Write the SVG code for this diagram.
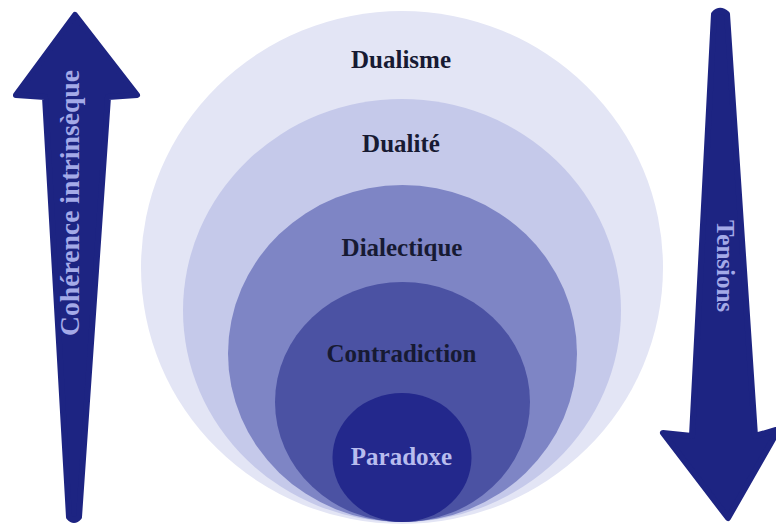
<svg xmlns="http://www.w3.org/2000/svg" width="776" height="524" viewBox="0 0 776 524">
<style>
.lbl{font-family:"Liberation Serif","Times New Roman",serif;font-weight:bold;font-size:25px;text-anchor:middle}
.dark{fill:#171a33}
.light{fill:#b8bcee}
.arrowtxt{font-family:"Liberation Serif","Times New Roman",serif;font-weight:bold;text-anchor:middle;fill:#a4aae8}
.arrow{fill:#1d2482;stroke:#1d2482;stroke-width:6;stroke-linejoin:round}
</style>
<rect width="776" height="524" fill="#ffffff"/>
<g id="dualisme">
<ellipse cx="402" cy="267.5" rx="261" ry="256.5" fill="#e3e5f5"/>
<text class="lbl dark" x="401" y="68">Dualisme</text>
</g>
<g id="dualite">
<ellipse cx="402" cy="310.5" rx="219" ry="211.5" fill="#c5c9ea"/>
<text class="lbl dark" x="401" y="151.5">Dualité</text>
</g>
<g id="dialectique">
<ellipse cx="402.5" cy="353.5" rx="174.5" ry="168.5" fill="#7e85c5"/>
<text class="lbl dark" x="402" y="256">Dialectique</text>
</g>
<g id="contradiction">
<ellipse cx="402.5" cy="402" rx="127.5" ry="120" fill="#4b52a3"/>
<text class="lbl dark" x="401.5" y="361.5">Contradiction</text>
</g>
<g id="paradoxe">
<ellipse cx="402" cy="457.5" rx="69.5" ry="64.5" fill="#23288c"/>
<text class="lbl light" x="401.5" y="465">Paradoxe</text>
</g>
<g id="connectors">
<g id="arrow-coherence">
<path class="arrow" d="M75,15 L137,95 L108,97 L79,517 Q74,523 69,517 L45,97 L16,95 Z"/>
<text class="arrowtxt" font-size="27" transform="translate(79,203) rotate(-90)" x="0" y="0" textLength="266" lengthAdjust="spacingAndGlyphs">Cohérence intrinsèque</text>
</g>
<g id="arrow-tensions">
<path class="arrow" d="M714,14 Q720,8 727,14 L755,436 L776,430 L776,434 L728,518 L663,433 L692,436 Z"/>
<text class="arrowtxt" font-size="25" transform="translate(717,266) rotate(90)" x="0" y="0">Tensions</text>
</g>
</g>
</svg>
